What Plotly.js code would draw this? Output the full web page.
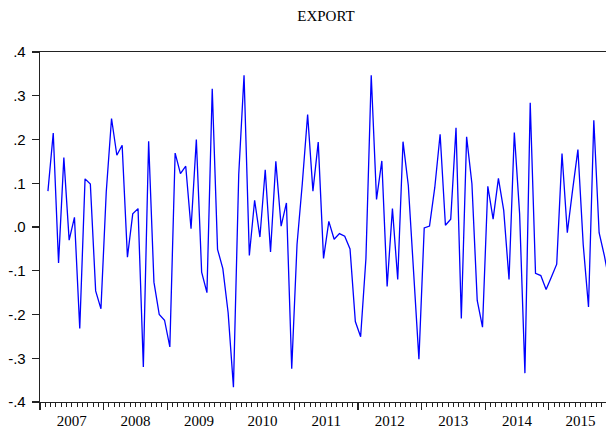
<!DOCTYPE html>
<html>
<head>
<meta charset="utf-8">
<script src="https://cdn.plot.ly/plotly-3.0.1.min.js"></script>
<style>
  html, body { margin: 0; padding: 0; background: #fff; }
  #chart { width: 606px; height: 432px; }
</style>
</head>
<body>
<div id="chart"></div>
<script>
// ---- data (monthly, starting Feb 2007) ----
const seriesName = 'EXPORT';
const startYear = 2007;
const startMonth = 2;
const exportValues = [
  0.082, 0.215, -0.082, 0.159, -0.030, 0.022, -0.232, 0.110, 0.098, -0.146, -0.187,
  0.080, 0.248, 0.164, 0.187, -0.069, 0.030, 0.042, -0.320, 0.196, -0.126, -0.200, -0.213,
  -0.274, 0.169, 0.122, 0.139, -0.004, 0.200, -0.103, -0.150, 0.316, -0.051, -0.095, -0.196,
  -0.366, 0.120, 0.347, -0.065, 0.061, -0.023, 0.131, -0.057, 0.150, 0.002, 0.055, -0.324,
  -0.040, 0.100, 0.257, 0.082, 0.194, -0.072, 0.013, -0.028, -0.015, -0.021, -0.050, -0.216,
  -0.251, -0.072, 0.347, 0.063, 0.151, -0.136, 0.042, -0.120, 0.195, 0.095, -0.107, -0.302,
  -0.002, 0.002, 0.091, 0.212, 0.004, 0.018, 0.227, -0.209, 0.206, 0.099, -0.168, -0.229,
  0.093, 0.018, 0.111, 0.038, -0.120, 0.216, 0.030, -0.334, 0.284, -0.106, -0.111, -0.143,
  -0.114, -0.085, 0.168, -0.013, 0.085, 0.177, -0.040, -0.183, 0.244, -0.013, -0.066,
  -0.130
];
const yearLabels = ['2007','2008','2009','2010','2011','2012','2013','2014','2015'];
const yTickValues = [-0.4, -0.3, -0.2, -0.1, 0.0, 0.1, 0.2, 0.3, 0.4];
const yTickLabels = ['-.4', '-.3', '-.2', '-.1', '.0', '.1', '.2', '.3', '.4'];

// x = months since Jan of first year, observation centred in its month
const monthIndex = exportValues.map((v, i) => (startMonth - 1) + i + 0.5);
const yearMid = yearLabels.map(y => (Number(y) - startYear) * 12 + 6);

const xRange = [0, 106.8];
const axisColor = '#222';

const traces = [
  {
    x: monthIndex, y: exportValues, type: 'scatter', mode: 'lines',
    name: seriesName,
    line: { color: '#0000ff', width: 1.3 },
    hoverinfo: 'skip', showlegend: false
  },
  { x: [], y: [], xaxis: 'x2', yaxis: 'y', type: 'scatter', showlegend: false, hoverinfo: 'skip' }
];

const layout = {
  width: 606, height: 432,
  margin: { l: 40, r: 0, t: 52, b: 30 },
  paper_bgcolor: '#fff', plot_bgcolor: '#fff',
  showlegend: false,
  title: {
    text: seriesName,
    font: { family: 'Liberation Serif, Times New Roman, serif', size: 15, color: '#000' },
    xref: 'container', x: 326 / 606, xanchor: 'center',
    yref: 'container', y: 1 - 15.5 / 432, yanchor: 'middle'
  },
  xaxis: {
    range: xRange, showgrid: false, zeroline: false,
    showline: true, linecolor: axisColor, linewidth: 1.3, mirror: true,
    tickmode: 'linear', tick0: 0, dtick: 12,
    ticks: 'outside', ticklen: 7, tickwidth: 1.2, tickcolor: axisColor,
    showticklabels: false,
    minor: { tickmode: 'linear', tick0: 0, dtick: 1, ticks: 'outside', ticklen: 4, tickwidth: 1, tickcolor: axisColor, showgrid: false }
  },
  xaxis2: {
    overlaying: 'x', anchor: 'y', side: 'bottom',
    range: xRange, showgrid: false, zeroline: false, showline: false,
    tickmode: 'array', tickvals: yearMid, ticktext: yearLabels,
    ticks: '', ticklabelstandoff: 8,
    tickfont: { family: 'Liberation Serif, Times New Roman, serif', size: 15, color: '#000' }
  },
  yaxis: {
    range: [-0.4, 0.4], showgrid: false, zeroline: false,
    showline: true, linecolor: axisColor, linewidth: 1.3,
    tickmode: 'array', tickvals: yTickValues, ticktext: yTickLabels,
    ticks: 'outside', ticklen: 7, tickwidth: 1.2, tickcolor: axisColor,
    ticklabelstandoff: 3,
    tickfont: { family: 'Liberation Sans, Arial, sans-serif', size: 15, color: '#000' }
  }
};

Plotly.newPlot('chart', traces, layout, { staticPlot: true, displayModeBar: false });
</script>
</body>
</html>
